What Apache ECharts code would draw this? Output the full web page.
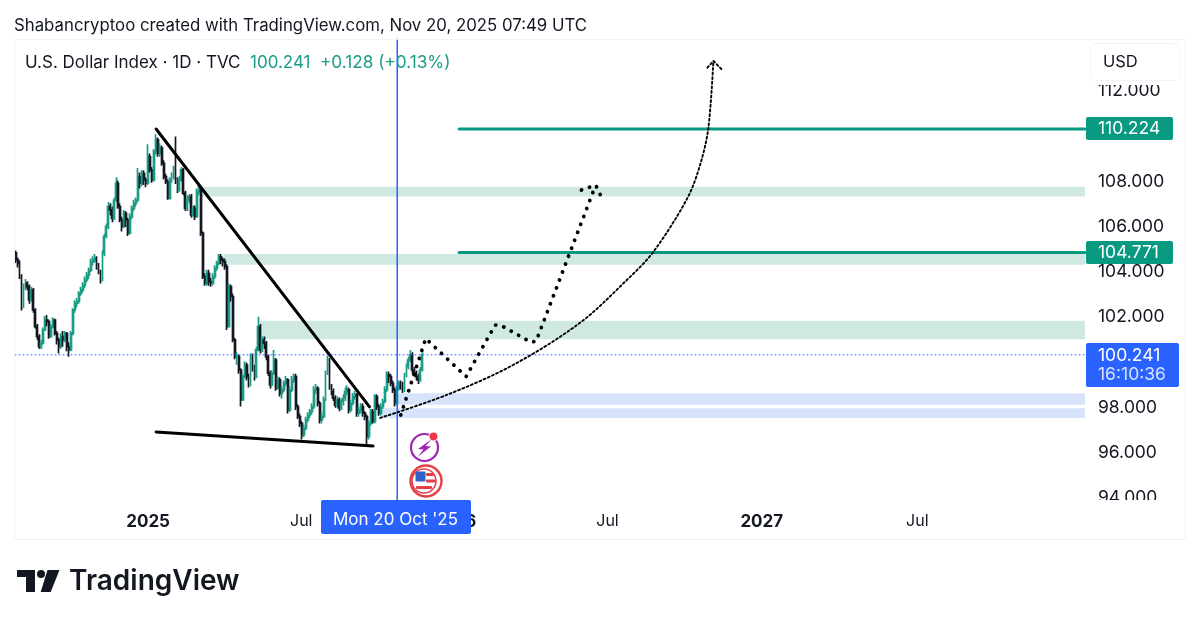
<!DOCTYPE html>
<html>
<head>
<meta charset="utf-8">
<title>U.S. Dollar Index</title>
<script src="https://cdn.jsdelivr.net/npm/echarts@6/dist/echarts.min.js"></script>
<style>
html, body {margin: 0; padding: 0; background: #fff;}
#echarts-dxy {width: 1200px; height: 624px;}
</style>
</head>
<body>
<div id="echarts-dxy"></div>
<script>
//----------------------Data----------------------
// candles: [open, close, low, high]
let candles_left = [
[104.75,104.44,104.3,104.85],[104.44,104.29,104.1,104.55],[104.29,103.7,103.6,104.4],[103.7,102.37,102.2,103.8],
[102.37,103.26,102.3,103.4],[103.26,103.41,103.1,103.6],[103.41,103.26,103.1,103.5],[103.26,102.67,102.5,103.35],
[102.67,103.11,102.6,103.25],[103.11,102.23,102.1,103.2],[102.23,101.49,101.4,102.3],[101.49,101.05,100.9,101.6],
[101.05,100.6,100.5,101.15],[100.6,100.75,100.5,100.9],[100.75,101.34,100.7,101.45],[101.34,101.78,101.3,101.95],
[101.78,101.71,101.5,102],[101.71,101.05,100.95,101.8],[101.05,101.49,101,101.6],[101.49,101.78,101.4,101.9],
[101.78,101.19,101.1,101.85],[101.19,100.9,100.7,101.3],[100.9,100.6,100.3,101],[100.6,101.05,100.5,101.2],
[101.05,100.9,100.6,101.3],[100.9,101.19,100.8,101.3],[101.19,100.6,100.4,101.25],[100.6,100.46,100.16,100.8],
[100.46,101.19,100.4,101.3],[101.19,102.23,101.1,102.3],[102.23,102.52,102.1,102.65],[102.52,102.6,102.35,102.75],
[102.6,102.96,102.5,103.05],[102.96,103.11,102.85,103.25],[103.11,103.33,103,103.45],[103.33,103.55,103.2,103.7],
[103.55,103.77,103.45,103.9],[103.77,103.99,103.6,104.1],[103.99,104.36,103.9,104.5],[104.36,104.44,104.2,104.6],
[104.44,104.51,104.3,104.7],[104.51,104.14,104,104.6],[104.14,103.92,103.8,104.3],[103.92,103.55,103.4,104],
[103.55,104.73,103.5,104.85],[104.73,105.47,104.6,105.6],[105.47,105.91,105.4,106.05],[105.91,106.8,105.8,107],
[106.8,106.65,106.4,106.95],[106.65,106.28,106.1,106.8],[106.28,107.09,106.2,107.2],[107.09,107.83,107,108.1],
[107.83,106.8,106.7,107.95],[106.8,106.21,106.1,106.95],[106.21,105.91,105.7,106.35],[105.91,106.5,105.85,106.65],
[106.5,106.21,105.9,106.6],[106.21,105.62,105.5,106.3],[105.62,106.35,105.55,106.5],[106.35,106.72,106.25,106.85],
[106.72,106.94,106.6,107.1],[106.94,107.09,106.8,107.2],[107.09,108.12,107,108.5],[108.12,107.83,107.6,108.3],
[107.83,108.27,107.7,108.4],[108.27,107.98,107.75,108.4],[107.98,107.83,107.65,108.1],[107.83,109.01,107.75,109.55],
[109.01,108.42,108.3,109.15],[108.42,107.98,107.85,108.55],[107.98,109.23,107.9,109.35],[109.23,109.75,109.1,110],
[109.75,109.16,109,109.85],[109.16,109.38,109,109.6],[109.38,108.71,108.6,109.5],[108.71,108.12,108,108.85],
[108.12,107.9,107.8,108.25],[107.9,107.17,107.1,108],[107.17,107.98,107.1,108.1],[107.98,108.12,107.85,108.3],
[108.12,108.42,108,108.6],[108.42,107.98,107.8,109.9],[107.98,107.53,107.4,108.1],[107.53,107.98,107.45,108.15],
[107.98,108.42,107.9,108.55],[108.42,107.39,107.3,108.5],[107.39,106.72,106.6,107.5],[106.72,107.09,106.6,107.3],
[107.09,107.24,106.95,107.35],[107.24,106.43,106.3,107.35],[106.43,106.72,106.35,106.85],[106.72,106.35,106.2,106.85],
[106.35,107.46,106.3,107.6],[107.46,107.61,107.3,107.75],[107.61,105.62,105.5,107.7],[105.62,103.7,103.6,105.7],
[103.7,103.41,103.3,103.85],[103.41,103.85,103.3,104],[103.85,103.48,103.3,104],[103.48,103.41,103.25,103.65],
[103.41,103.7,103.3,103.85],[103.7,104.07,103.6,104.2],[104.07,104.29,103.95,104.4],[104.29,104.59,104.2,104.7],
[104.59,104.44,104.25,104.7],[104.44,104.36,104.15,104.55],[104.36,104.14,104,104.5],[104.14,101.49,101.34,104.25],
[101.49,103.26,101.45,103.4],[103.26,102.82,102.6,103.35],[102.82,100.9,100.8,102.95],[100.9,100.16,100.05,101]
];
let candles_right = [
[100.16,100.16,99.8,100.35],[100.16,99.57,99.4,100.25],[99.57,98.25,97.95,99.65],[98.25,99.28,98.2,99.4],
[99.28,99.79,99.2,99.95],[99.79,99.28,99.1,99.9],[99.28,98.91,98.8,99.4],[98.91,100.16,98.85,100.3],
[100.16,99.65,99.5,100.3],[99.65,99.28,99.1,99.8],[99.28,100.46,99.2,100.6],[100.46,101.49,100.4,101.93],
[101.49,100.46,100.3,101.6],[100.46,100.9,100.35,101.05],[100.9,100.75,100.5,101.05],[100.75,100.16,100,100.85],
[100.16,99.43,99.3,100.25],[99.43,98.91,98.75,99.55],[98.91,99.43,98.85,99.55],[99.43,100.01,99.35,100.46],
[100.01,98.76,98.65,100.1],[98.76,99.13,98.7,99.3],[99.13,98.54,98.4,99.25],[98.54,98.69,98.3,98.85],
[98.69,98.98,98.6,99.1],[98.98,99.13,98.85,99.3],[99.13,97.8,97.65,99.2],[97.8,98.69,97.7,98.85],
[98.69,99.13,98.6,99.3],[99.13,99.28,99,99.4],[99.28,97.95,97.8,99.4],[97.95,97.51,97.4,98.05],
[97.51,97.21,97.05,97.65],[97.21,96.7,96.5,97.3],[96.7,96.99,96.6,97.15],[96.99,97.36,96.9,97.5],
[97.36,97.58,97.25,97.7],[97.58,97.73,97.45,97.85],[97.73,97.95,97.6,98.1],[97.95,98.69,97.85,98.85],
[98.69,98.76,98.5,98.95],[98.76,98.1,97.95,98.85],[98.1,97.36,97.2,98.2],[97.36,97.51,97.2,97.7],
[97.51,98.25,97.45,98.4],[98.25,99.43,98.2,99.55],[99.43,100.01,99.35,100.2],[100.01,98.83,98.7,100.1],
[98.83,98.61,98.45,98.95],[98.61,98.32,98.2,98.75],[98.32,98.02,97.9,98.45],[98.02,98.25,97.9,98.4],
[98.25,97.88,97.75,98.35],[97.88,98.17,97.8,98.3],[98.17,98.32,98,98.5],[98.32,98.61,98.2,98.8],
[98.61,98.69,98.45,98.9],[98.69,97.8,97.65,98.8],[97.8,98.1,97.7,98.25],[98.1,98.39,98,98.55],
[98.39,98.47,98.25,98.65],[98.47,97.66,97.5,98.55],[97.66,97.8,97.5,97.95],[97.8,97.95,97.65,98.1],
[97.95,97.66,97.5,98.1],[97.66,97.51,97.35,97.75],[97.51,96.62,96.25,97.6],[96.62,97.21,96.5,97.35],
[97.21,97.73,97.1,97.85],[97.73,97.29,97.2,97.85],[97.29,98.39,97.2,98.5],[98.39,97.95,97.8,98.5],
[97.95,97.66,97.55,98.05],[97.66,97.95,97.55,98.1],[97.95,98.17,97.85,98.3],[98.17,98.69,98.1,98.85],
[98.69,99.35,98.6,99.5],[99.35,99.28,99,99.5],[99.28,98.98,98.85,99.4],[98.98,98.69,98.55,99.1],
[98.69,98.1,97.95,98.8],[98.1,98.76,98,98.9],[98.76,98.98,98.65,99.1],[98.98,98.91,98.7,99.1],
[98.91,98.69,98.55,99.05],[98.69,99.35,98.6,99.45],[99.35,99.72,99.25,99.85],[99.72,100.01,99.6,100.15],
[100.01,100.23,99.9,100.45],[100.23,99.57,99.4,100.35],[99.57,99.43,99.3,99.7],[99.43,99.28,99.1,99.55],
[99.28,99.13,98.95,99.4],[99.13,99.57,99.05,99.7],[99.57,100.24,99.5,100.35]
];
// hand drawn levels: [start bar, price]
let level_lines = [[264, 110.224], [264, 104.771]];
let last_price = 100.241;
let cursor_bar = 211.5;
// zones: [start bar, top price, bottom price]
let green_zones = [[44, 107.68, 107.24], [64, 104.7, 104.22], [95, 101.75, 100.93]];
let blue_zones = [[210, 98.54, 98.03], [198, 97.88, 97.45]];
// trend lines: [bar, price]
let falling_line = [[6.8, 110.23], [188, 97.94]];
let support_line = [[6.8, 96.83], [191, 96.21]];
// projections: [bar, price]
let bold_path = [[214.5, 97.58], [235.7, 100.96], [270, 99.28], [294.6, 101.56], [300, 101.53], [324.9, 100.8], [329.4, 100.84], [380, 107.75]];
let bold_head = [[367.9, 107.53], [380, 107.75], [386.3, 107.05]];
let curve_path = [[197, 97.45], [253.6, 98.47], [309.8, 99.79], [366.7, 101.66], [406.4, 103.55], [429, 104.8], [457.8, 107.17], [468.6, 108.64], [475.6, 110.26], [479.9, 113.24]];
let curve_head = [[474.8, 112.94], [479.9, 113.24], [486.7, 112.88]];
// axis ticks
let x_tick_bars = [0, 130, 260, 390, 521, 653];
let x_tick_labels = ["2025", "Jul", "2026", "Jul", "2027", "Jul"];
let y_tick_prices = [94, 96, 98, 102, 104, 106, 108, 112];
//--------------------Location--------------------
let first_bar = -112.5;
let bar_step = 1.676;
let x_min = -113;
let x_max = 795.4;
let y_min = 93.82;
let y_max = 114.21;
//---------------------Colors---------------------
let col_up = "#1a9c86";
let col_down = "#131722";
let col_badge = "#089981";
let col_blue = "#2962ff";
let col_green_zone = "#cfe9e2";
let col_blue_zone = "#d6e3fb";
let font_main = "Inter, Roboto, sans-serif";
//----------------------Init----------------------
let dxy_chart = echarts.init(document.getElementById("echarts-dxy"));
let candle_rows = candles_left.concat(candles_right).map(function (row, i) {
    return [first_bar + i * bar_step].concat(row);
});
function to_area(rows) {
    return rows.map(function (z) {
        return [{coord: [z[0], z[1]]}, {coord: [x_max, z[2]]}];
    });
}
function line_series(data, color, width, dash, z, smooth) {
    return {
        type: "line",
        data: data,
        symbol: "none",
        silent: true,
        smooth: smooth || false,
        z: z,
        animation: false,
        lineStyle: {color: color, width: width, type: dash || "solid", cap: "round", join: "round"}
    };
}
//---------------------Series---------------------
let dxy_series = [
    {
        type: "line",
        data: [],
        silent: true,
        z: 1,
        markArea: {
            silent: true,
            animation: false,
            itemStyle: {color: col_green_zone, opacity: 1},
            data: to_area(green_zones)
        }
    },
    {
        type: "line",
        data: [],
        silent: true,
        z: 1,
        markArea: {
            silent: true,
            animation: false,
            itemStyle: {color: col_blue_zone, opacity: 1},
            data: to_area(blue_zones)
        }
    },
    {
        type: "candlestick",
        data: candle_rows,
        encode: {x: 0, y: [1, 2, 3, 4]},
        barWidth: 1.4,
        z: 3,
        animation: false,
        itemStyle: {color: col_up, color0: col_down, borderColor: col_up, borderColor0: col_down, borderWidth: 1.7}
    },
    line_series([[x_min, last_price], [x_max, last_price]], col_blue, 1, [1, 3], 4),
    line_series([[cursor_bar, y_min], [cursor_bar, y_max]], col_blue, 1.5, "solid", 4),
    line_series([[level_lines[0][0], level_lines[0][1]], [x_max, level_lines[0][1]]], col_badge, 3, "solid", 5),
    line_series([[level_lines[1][0], level_lines[1][1]], [x_max, level_lines[1][1]]], col_badge, 3, "solid", 5),
    line_series(falling_line, "#000", 3, "solid", 6),
    line_series(support_line, "#000", 3, "solid", 6),
    line_series(bold_path, "#000", 3.8, [0.1, 8.4], 7),
    line_series(bold_head, "#000", 3.8, [0.1, 8.4], 7),
    line_series(curve_path, "#000", 1.9, [2, 2.6], 7, 0.33),
    line_series(curve_head, "#000", 1.9, [2, 2.6], 7)
];
//----------------------Axis----------------------
let dxy_x_axis = {
    type: "value",
    min: x_min,
    max: x_max,
    splitLine: {show: false},
    axisLine: {show: false},
    axisTick: {show: false},
    axisLabel: {
        customValues: x_tick_bars,
        margin: 13,
        hideOverlap: false,
        formatter: function (value) {
            let label = x_tick_labels[x_tick_bars.indexOf(value)];
            return label === "Jul" ? "{m|Jul}" : "{y|" + label + "}";
        },
        rich: {
            m: {fontFamily: font_main, fontSize: 16, color: "#131722"},
            y: {fontFamily: font_main, fontSize: 17, fontWeight: 700, color: "#131722"}
        }
    }
};
let dxy_y_axis = {
    type: "value",
    position: "right",
    min: y_min,
    max: y_max,
    splitLine: {show: false},
    axisLine: {show: false},
    axisTick: {show: false},
    axisLabel: {
        customValues: y_tick_prices,
        margin: 13,
        fontFamily: font_main,
        fontSize: 17.5,
        color: "#131722",
        align: "left",
        verticalAlign: "top",
        lineHeight: 4,
        formatter: function (value) {
            return value.toFixed(3);
        }
    }
};
//--------------------Graphics--------------------
function badge(x, y, w, h, color, r) {
    return {type: "rect", z: 100, shape: {x: x, y: y, width: w, height: h, r: r}, style: {fill: color}};
}
function flag_bar(x, y, w, h, color) {
    return {type: "rect", z: 102, shape: {x: x, y: y, width: w, height: h, r: 1}, style: {fill: color}};
}
function label(x, y, text, color, size, extra) {
    return {
        type: "text", z: 101, x: x, y: y,
        style: Object.assign({text: text, fill: color, font: size + "px " + font_main, verticalAlign: "middle"}, extra || {})
    };
}
let dxy_graphic = [
    // clip of the price scale at the pane bottom and under the button
    badge(1086, 500, 98, 38, "#fff", 0),
    badge(1086, 78, 98, 7, "#fff", 0),
    // frame
    {type: "rect", z: 99, shape: {x: 14.5, y: 39.5, width: 1171, height: 500}, style: {fill: "none", stroke: "#f0f3fa", lineWidth: 1}},
    label(14, 26, "Shabancryptoo created with TradingView.com, Nov 20, 2025 07:49 UTC", "#131722", 16.8),
    label(25, 63, "U.S. Dollar Index \u00b7 1D \u00b7 TVC", "#131722", 17),
    label(250, 63, "100.241", "#1a9c86", 17),
    label(320, 63, "+0.128 (+0.13%)", "#1a9c86", 17.2),
    // currency button
    {type: "rect", z: 100, shape: {x: 1090, y: 43.5, width: 90, height: 37, r: 6}, style: {fill: "#fff", stroke: "#f0f3fa", lineWidth: 1}},
    label(1103, 62, "USD", "#131722", 16.5),
    // level badges
    badge(1086, 117, 87, 23, col_badge, 2),
    label(1098, 129, "110.224", "#fff", 17.5),
    badge(1086, 241, 87, 23, col_badge, 2),
    label(1098, 253, "104.771", "#fff", 17.5),
    badge(1086, 343, 93, 44, col_blue, 2),
    label(1098, 356, "100.241", "#fff", 17.5),
    label(1098, 375, "16:10:36", "#d5e0ff", 17.5),
    // cursor date
    badge(321, 500, 150, 34, col_blue, 2),
    label(395.5, 520, "Mon 20 Oct '25", "#fff", 17, {align: "center"}),
    // events
    {type: "circle", z: 100, shape: {cx: 424.5, cy: 447.5, r: 13.5}, style: {fill: "#fff", stroke: "#9c27b0", lineWidth: 2.2}},
    {type: "polygon", z: 101, shape: {points: [[432, 439], [418, 449], [423.5, 449.5], [417.5, 457], [431, 446.5], [425.5, 446]]}, style: {fill: "#9c27b0"}},
    {type: "circle", z: 102, shape: {cx: 433.5, cy: 436.5, r: 4.5}, style: {fill: "#f23645", stroke: "#fff", lineWidth: 1}},
    {type: "circle", z: 100, shape: {cx: 426, cy: 481, r: 15.5}, style: {fill: "#fff", stroke: "#e53f46", lineWidth: 2.4}},
    {type: "circle", z: 101, shape: {cx: 424, cy: 481, r: 12}, style: {fill: "#fff", stroke: "#e53f46", lineWidth: 1.5}},
    flag_bar(426, 473, 8, 3, "#e53f46"),
    flag_bar(426, 479.5, 10, 3, "#e53f46"),
    flag_bar(416, 486, 16, 3, "#e53f46"),
    flag_bar(415.5, 471.5, 10, 10, "#2f63c9"),
    // logo
    {type: "polygon", z: 100, shape: {points: [[17, 570], [35, 570], [35, 592], [26, 592], [26, 577], [17, 577]]}, style: {fill: "#131722"}},
    {type: "circle", z: 100, shape: {cx: 41, cy: 574, r: 4}, style: {fill: "#131722"}},
    {type: "polygon", z: 100, shape: {points: [[47.5, 570], [59.5, 570], [50.7, 592], [40.7, 592]]}, style: {fill: "#131722"}},
    label(69, 582, "TradingView", "#131722", 28, {font: "600 28px " + font_main})
];
//------------------Generate Graph------------------
let dxy_option = {
    backgroundColor: "#fff",
    animation: false,
    grid: {left: 15, right: 115, top: 39, height: 461},
    xAxis: dxy_x_axis,
    yAxis: dxy_y_axis,
    series: dxy_series,
    graphic: dxy_graphic
};
dxy_chart.setOption(dxy_option, true);
</script>
</body>
</html>
